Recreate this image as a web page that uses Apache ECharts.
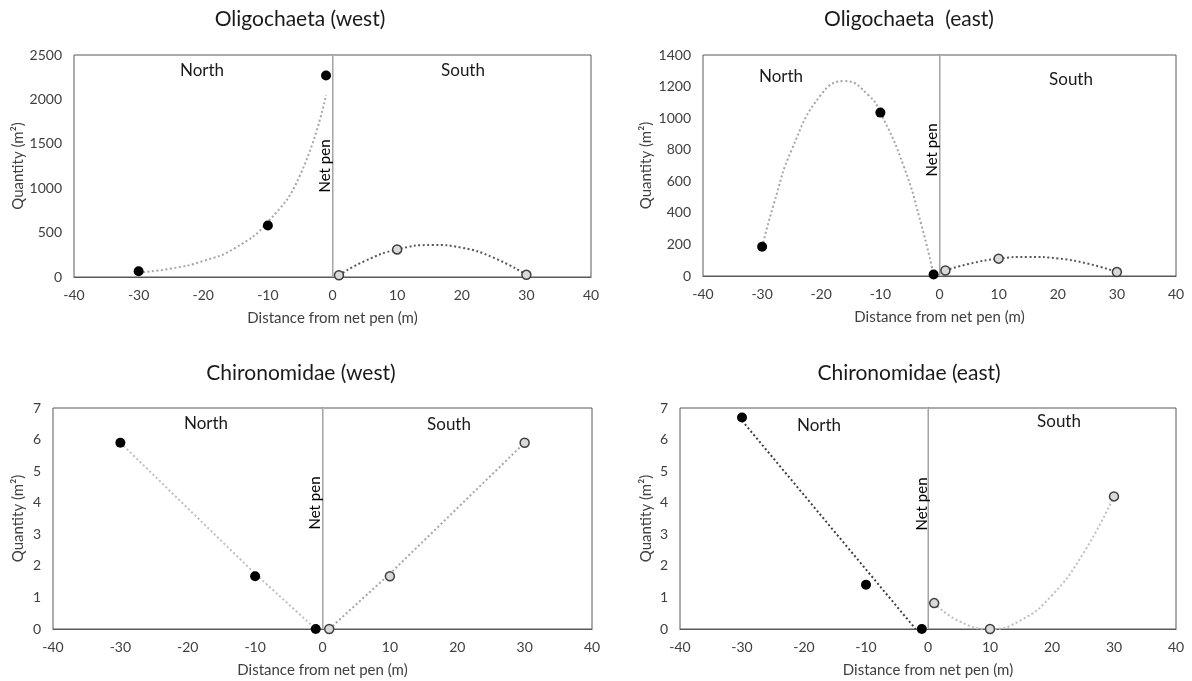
<!DOCTYPE html>
<html>
<head>
<meta charset="utf-8">
<script src="https://cdn.jsdelivr.net/npm/echarts@6/dist/echarts.min.js"></script>
<style>html,body{margin:0;padding:0;background:#fff;}#c{width:1192px;height:681px;}</style>
</head>
<body>
<div id="c"></div>
<script>
// ---------- data ----------
const xTicks = [-40, -30, -20, -10, 0, 10, 20, 30, 40];
const titles = ['Oligochaeta (west)', 'Oligochaeta  (east)', 'Chironomidae (west)', 'Chironomidae (east)'];
const yMax = [2500, 1400, 7, 7];
const yStep = [500, 200, 1, 1];

// Oligochaeta (west)
const owNorthX = [-30, -10, -1];
const owNorthY = [65, 580, 2270];
const owSouthX = [1, 10, 30];
const owSouthY = [20, 310, 25];
const owNorthTrendX = [-30, -25, -20, -15, -10, -5, -1];
const owNorthTrendY = [50, 95, 180, 330, 620, 1150, 2050];
const owSouthTrendX = [1, 5, 10, 15.5, 20, 25, 30];
const owSouthTrendY = [20, 180, 310, 360, 330, 215, 25];

// Oligochaeta (east)
const oeNorthX = [-30, -10, -1];
const oeNorthY = [185, 1035, 10];
const oeSouthX = [1, 10, 30];
const oeSouthY = [35, 110, 25];
const oeNorthTrendX = [-30, -28, -25, -20, -16, -12, -10, -6, -3, -1];
const oeNorthTrendY = [185, 460, 800, 1150, 1235, 1145, 1035, 690, 315, 10];
const oeSouthTrendX = [1, 5, 10, 15, 20, 25, 30];
const oeSouthTrendY = [35, 77, 110, 121, 111, 79, 25];

// Chironomidae (west)
const cwNorthX = [-30, -10, -1];
const cwNorthY = [5.9, 1.67, 0];
const cwSouthX = [1, 10, 30];
const cwSouthY = [0, 1.67, 5.9];
const cwNorthTrendX = [-30, -10, -1];
const cwNorthTrendY = [5.9, 1.75, 0];
const cwSouthTrendX = [1, 10, 30];
const cwSouthTrendY = [0, 1.75, 5.9];

// Chironomidae (east)
const ceNorthX = [-30, -10, -1];
const ceNorthY = [6.7, 1.4, 0];
const ceSouthX = [1, 10, 30];
const ceSouthY = [0.82, 0, 4.2];
const ceNorthTrendX = [-30, -2];
const ceNorthTrendY = [6.6, 0];
const ceSouthTrendX = [1, 5, 10, 15, 20, 25, 30];
const ceSouthTrendY = [0.82, 0.25, 0, 0.28, 1.07, 2.38, 4.2];

// ---------- layout ----------
const FONT = 'Lato';
const grids = [
  {left: 74, top: 55, width: 517, height: 222},
  {left: 703, top: 55, width: 473, height: 221},
  {left: 53, top: 408, width: 539, height: 221},
  {left: 680, top: 408, width: 496, height: 221}
];
const titlePos = [[300, 22], [909, 22], [301, 376], [909, 376]];
const yNameGap = [48, 49, 27, 26];
const northPos = [[202, 71], [781, 77], [206, 424], [819, 426]];
const southPos = [[463, 71], [1071, 80], [449, 425], [1059, 422]];
const netPenPos = [[325, 166], [932, 150], [315, 503], [922, 504]];

const zip = (xs, ys) => xs.map((x, i) => [x, ys[i]]);
const LIGHT = '#a6a6a6', DARK = '#595959';

const panels = [
  {nX: owNorthX, nY: owNorthY, sX: owSouthX, sY: owSouthY, ntX: owNorthTrendX, ntY: owNorthTrendY, stX: owSouthTrendX, stY: owSouthTrendY, nCol: LIGHT, sCol: DARK, nSmooth: true, sSmooth: true},
  {nX: oeNorthX, nY: oeNorthY, sX: oeSouthX, sY: oeSouthY, ntX: oeNorthTrendX, ntY: oeNorthTrendY, stX: oeSouthTrendX, stY: oeSouthTrendY, nCol: LIGHT, sCol: DARK, nSmooth: true, sSmooth: true},
  {nX: cwNorthX, nY: cwNorthY, sX: cwSouthX, sY: cwSouthY, ntX: cwNorthTrendX, ntY: cwNorthTrendY, stX: cwSouthTrendX, stY: cwSouthTrendY, nCol: '#bfbfbf', sCol: '#a6a6a6', nSmooth: false, sSmooth: false},
  {nX: ceNorthX, nY: ceNorthY, sX: ceSouthX, sY: ceSouthY, ntX: ceNorthTrendX, ntY: ceNorthTrendY, stX: ceSouthTrendX, stY: ceSouthTrendY, nCol: '#404040', sCol: '#bfbfbf', nSmooth: false, sSmooth: true}
];

const option = {
  animation: false,
  textStyle: {fontFamily: FONT},
  title: titles.map((t, i) => ({
    text: t, left: titlePos[i][0], top: titlePos[i][1] - 13, textAlign: 'center', padding: 0,
    textStyle: {fontFamily: FONT, fontSize: 21, fontWeight: 'normal', color: '#1a1a1a'}
  })),
  grid: grids.map(g => Object.assign({show: true, borderColor: '#595959', borderWidth: 1, backgroundColor: '#fff', containLabel: false}, g)),
  xAxis: grids.map((g, i) => ({
    type: 'value', gridIndex: i, min: xTicks[0], max: xTicks[xTicks.length - 1], interval: xTicks[1] - xTicks[0],
    name: 'Distance from net pen (m)', nameLocation: 'middle', nameGap: 34,
    nameTextStyle: {fontFamily: FONT, fontSize: 15, color: '#404040'},
    axisLine: {show: true, lineStyle: {color: '#595959'}}, axisTick: {show: false},
    splitLine: {show: false},
    axisLabel: {fontFamily: FONT, fontSize: 14, color: '#404040', margin: 11}
  })),
  yAxis: grids.map((g, i) => ({
    type: 'value', gridIndex: i, min: 0, max: yMax[i], interval: yStep[i],
    name: 'Quantity (m²)', nameLocation: 'middle', nameGap: yNameGap[i],
    nameTextStyle: {fontFamily: FONT, fontSize: 15, color: '#404040'},
    axisLine: {show: true, lineStyle: {color: '#595959'}}, axisTick: {show: false},
    splitLine: {show: false},
    axisLabel: {fontFamily: FONT, fontSize: 14, color: '#404040', margin: 12, formatter: v => String(v)}
  })),
  series: [],
  graphic: []
};

panels.forEach((p, i) => {
  // net pen line
  option.series.push({
    type: 'line', xAxisIndex: i, yAxisIndex: i, data: [], silent: true,
    markLine: {silent: true, symbol: 'none', label: {show: false},
      lineStyle: {color: '#bfbfbf', type: 'solid', width: 1.5},
      data: [{xAxis: 0}]}
  });
  option.series.push({
    type: 'line', xAxisIndex: i, yAxisIndex: i, data: zip(p.ntX, p.ntY), smooth: p.nSmooth,
    showSymbol: false, symbol: 'none', z: 2,
    lineStyle: {color: p.nCol, width: 2, type: [2, 2.5], cap: 'butt'}
  });
  option.series.push({
    type: 'line', xAxisIndex: i, yAxisIndex: i, data: zip(p.stX, p.stY), smooth: p.sSmooth,
    showSymbol: false, symbol: 'none', z: 2,
    lineStyle: {color: p.sCol, width: 2, type: [2, 2.5], cap: 'butt'}
  });
  option.series.push({
    type: 'scatter', xAxisIndex: i, yAxisIndex: i, data: zip(p.nX, p.nY), symbolSize: 10, z: 5,
    itemStyle: {color: '#000', borderColor: '#000', borderWidth: 0, opacity: 1}
  });
  option.series.push({
    type: 'scatter', xAxisIndex: i, yAxisIndex: i, data: zip(p.sX, p.sY), symbolSize: 9, z: 5,
    itemStyle: {color: '#d9d9d9', borderColor: '#404040', borderWidth: 1.5, opacity: 1}
  });
  option.graphic.push({type: 'text', x: northPos[i][0], y: northPos[i][1], z: 10,
    style: {text: 'North', font: '17px ' + FONT, fill: '#1a1a1a', align: 'center', verticalAlign: 'middle'}});
  option.graphic.push({type: 'text', x: southPos[i][0], y: southPos[i][1], z: 10,
    style: {text: 'South', font: '17px ' + FONT, fill: '#1a1a1a', align: 'center', verticalAlign: 'middle'}});
  option.graphic.push({type: 'text', x: netPenPos[i][0], y: netPenPos[i][1], rotation: Math.PI / 2, z: 10,
    style: {text: 'Net pen', font: '15px ' + FONT, fill: '#000', align: 'center', verticalAlign: 'middle'}});
});

const chart = echarts.init(document.getElementById('c'), null, {renderer: 'canvas'});
chart.setOption(option);
</script>
</body>
</html>
